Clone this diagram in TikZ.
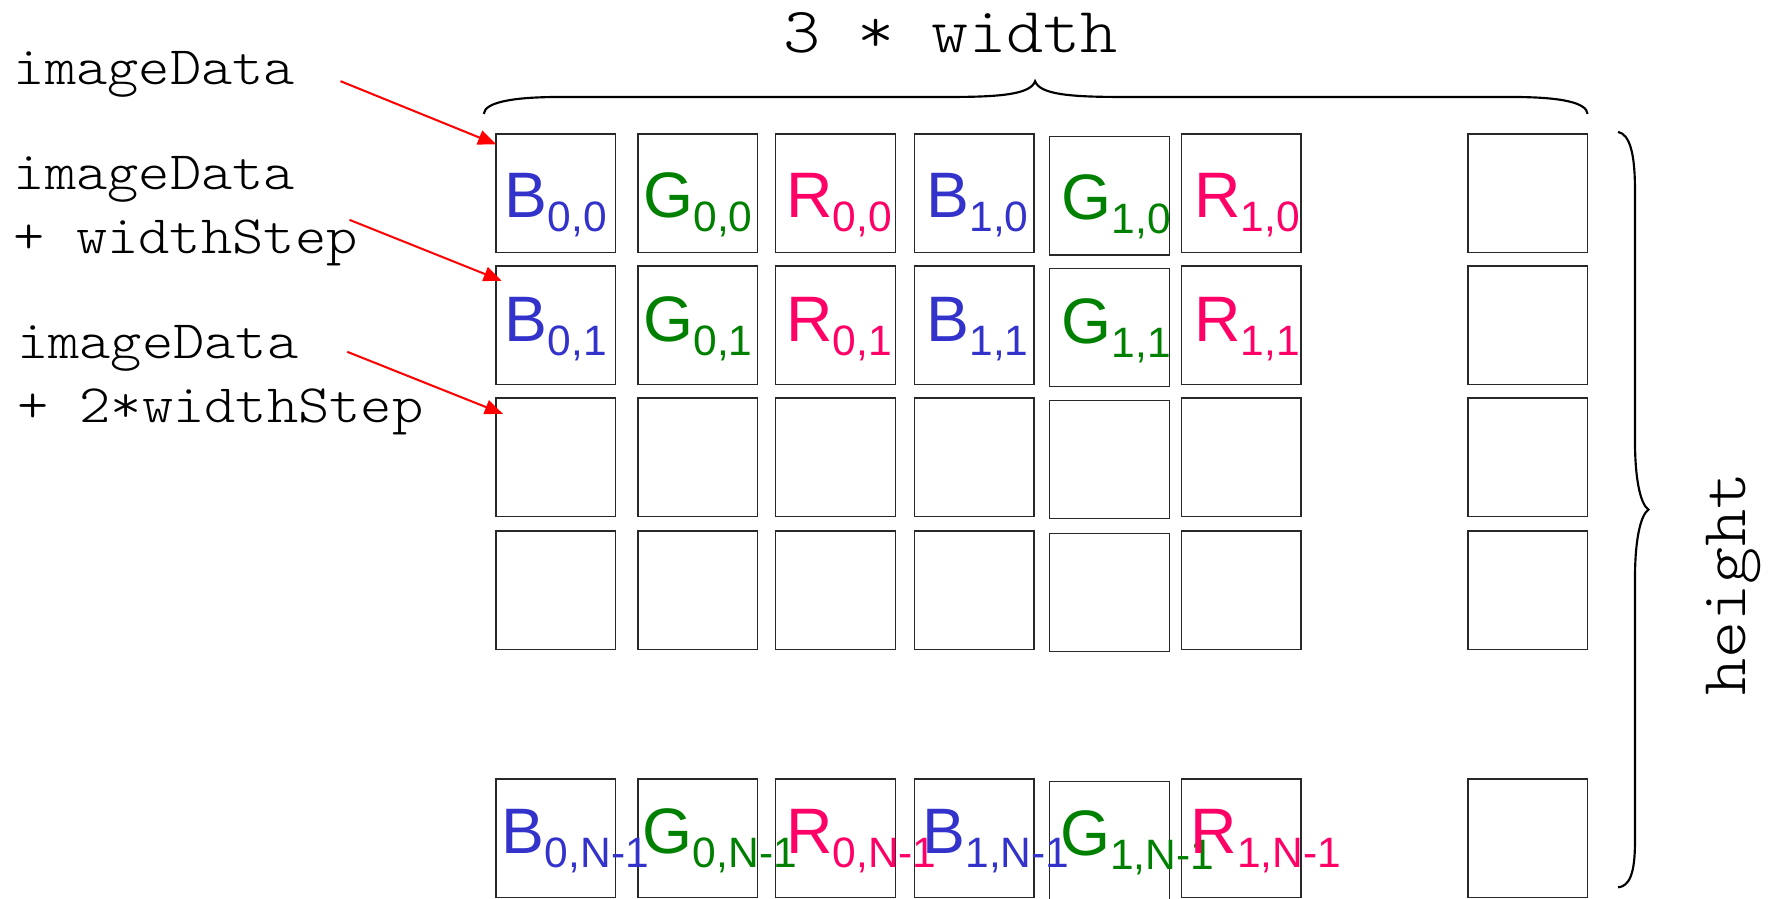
\documentclass[tikz,border=0pt]{standalone}
\usepackage{fontspec}
\setmainfont{Liberation Sans}
\newfontfamily\monof[FakeStretch=1.1]{lmmonolt10-regular.otf}
\usetikzlibrary{arrows.meta}
\definecolor{cb}{RGB}{51,51,204}
\definecolor{cg}{RGB}{0,128,0}
\definecolor{cr}{RGB}{255,0,102}
\definecolor{boxline}{RGB}{40,40,40}
\newcommand\pixlab[3]{\textcolor{#1}{\fontsize{57}{60}\selectfont #2\raisebox{-12pt}{\fontsize{37.7}{40}\selectfont #3}}}
\begin{document}
\begin{tikzpicture}[x=1pt,y=-1pt,
  cell/.style={draw=boxline, line width=1.3pt, minimum width=106pt, minimum height=105pt, inner sep=0pt, outer sep=0pt, anchor=north west},
  labc/.style={anchor=base, inner sep=0pt},
  labw/.style={anchor=base west, inner sep=0pt},
  mono/.style={font=\monof\fontsize{48}{52}\selectfont, anchor=base west, inner sep=0pt},
  bigmono/.style={font=\monof\fontsize{57}{60}\selectfont, anchor=base, inner sep=0pt},
  ptr/.style={draw=red, line width=1.8pt, -{Triangle[length=16pt,width=13pt]}},
  bracestyle/.style={draw=black, line width=1.9pt}
]
\useasboundingbox (0,0) rectangle (1568,797);
% cells
\foreach \x/\c in {440/1,566/2,688/3,811/4,1048/6,1302/7}
  \foreach \y/\r in {119/1,236/2,353/3,471/4,691/5}
    \node[cell] (c\c\r) at (\x,\y) {};
\foreach \y/\r in {121/1,238/2,355/3,473/4,693/5}
  \node[cell] (c5\r) at (931,\y) {};
% row 1 labels
\node[labc] (l11) at ([yshift=-74pt]c11.north) {\pixlab{cb}{B}{0,0}};
\node[labc] (l21) at ([yshift=-74pt]c21.north) {\pixlab{cg}{G}{0,0}};
\node[labc] (l31) at ([xshift=3pt,yshift=-74pt]c31.north) {\pixlab{cr}{R}{0,0}};
\node[labc] (l41) at ([xshift=3pt,yshift=-74pt]c41.north) {\pixlab{cb}{B}{1,0}};
\node[labc] (l51) at ([xshift=6pt,yshift=-74pt]c51.north) {\pixlab{cg}{G}{1,0}};
\node[labc] (l61) at ([xshift=5pt,yshift=-74pt]c61.north) {\pixlab{cr}{R}{1,0}};
% row 2 labels
\node[labc] (l12) at ([yshift=-67pt]c12.north) {\pixlab{cb}{B}{0,1}};
\node[labc] (l22) at ([yshift=-67pt]c22.north) {\pixlab{cg}{G}{0,1}};
\node[labc] (l32) at ([xshift=3pt,yshift=-67pt]c32.north) {\pixlab{cr}{R}{0,1}};
\node[labc] (l42) at ([xshift=3pt,yshift=-67pt]c42.north) {\pixlab{cb}{B}{1,1}};
\node[labc] (l52) at ([xshift=6pt,yshift=-67pt]c52.north) {\pixlab{cg}{G}{1,1}};
\node[labc] (l62) at ([xshift=5pt,yshift=-67pt]c62.north) {\pixlab{cr}{R}{1,1}};
% row 5 labels
\node[labw] (l15) at ([xshift=5pt,yshift=-66pt]c15.north west) {\pixlab{cb}{B}{0,N-1}};
\node[labw] (l25) at ([xshift=4pt,yshift=-66pt]c25.north west) {\pixlab{cg}{G}{0,N-1}};
\node[labw] (l35) at ([xshift=9pt,yshift=-66pt]c35.north west) {\pixlab{cr}{R}{0,N-1}};
\node[labw] (l45) at ([xshift=7pt,yshift=-66pt]c45.north west) {\pixlab{cb}{B}{1,N-1}};
\node[labw] (l55) at ([xshift=9pt,yshift=-66pt]c55.north west) {\pixlab{cg}{G}{1,N-1}};
\node[labw] (l65) at ([xshift=8pt,yshift=-66pt]c65.north west) {\pixlab{cr}{R}{1,N-1}};
% left texts
\node[mono] (t1) at (12,75) {imageData};
\node[mono] (t2a) at (12,168) {imageData};
\node[mono] (t2b) at (12,225) {+ widthStep};
\node[mono] (t3a) at (15,318) {imageData};
\node[mono] (t3b) at (15,375) {+ 2*widthStep};
% pointer arrows
\coordinate (s1) at (302,72);
\coordinate (s2) at (310,195);
\coordinate (s3) at (308,312);
\draw[ptr] (s1) -- ([yshift=-9pt]c11.north west);
\draw[ptr] (s2) -- ([xshift=5pt,yshift=-13pt]c12.north west);
\draw[ptr] (s3) -- ([xshift=6pt,yshift=-14pt]c13.north west);
% top brace
\draw[bracestyle] (429,101) .. controls (430,90) and (458,86) .. (497,86) -- (842,86)
  .. controls (885,86) and (914,84) .. (918,72)
  .. controls (922,84) and (951,86) .. (995,86) -- (1340,86)
  .. controls (1385,86) and (1407,91) .. (1408,101);
\node[bigmono] (w) at (843,47) {3 * width};
% right brace
\draw[bracestyle] (1435,117) .. controls (1445,119) and (1450,135) .. (1450,168) -- (1450,390)
  .. controls (1450,430) and (1456,448) .. (1462,452)
  .. controls (1456,456) and (1450,474) .. (1450,514) -- (1450,747)
  .. controls (1450,775) and (1445,786) .. (1435,787);
\node[bigmono, rotate=90] (h) at (1548,518) {height};
\end{tikzpicture}
\end{document}
